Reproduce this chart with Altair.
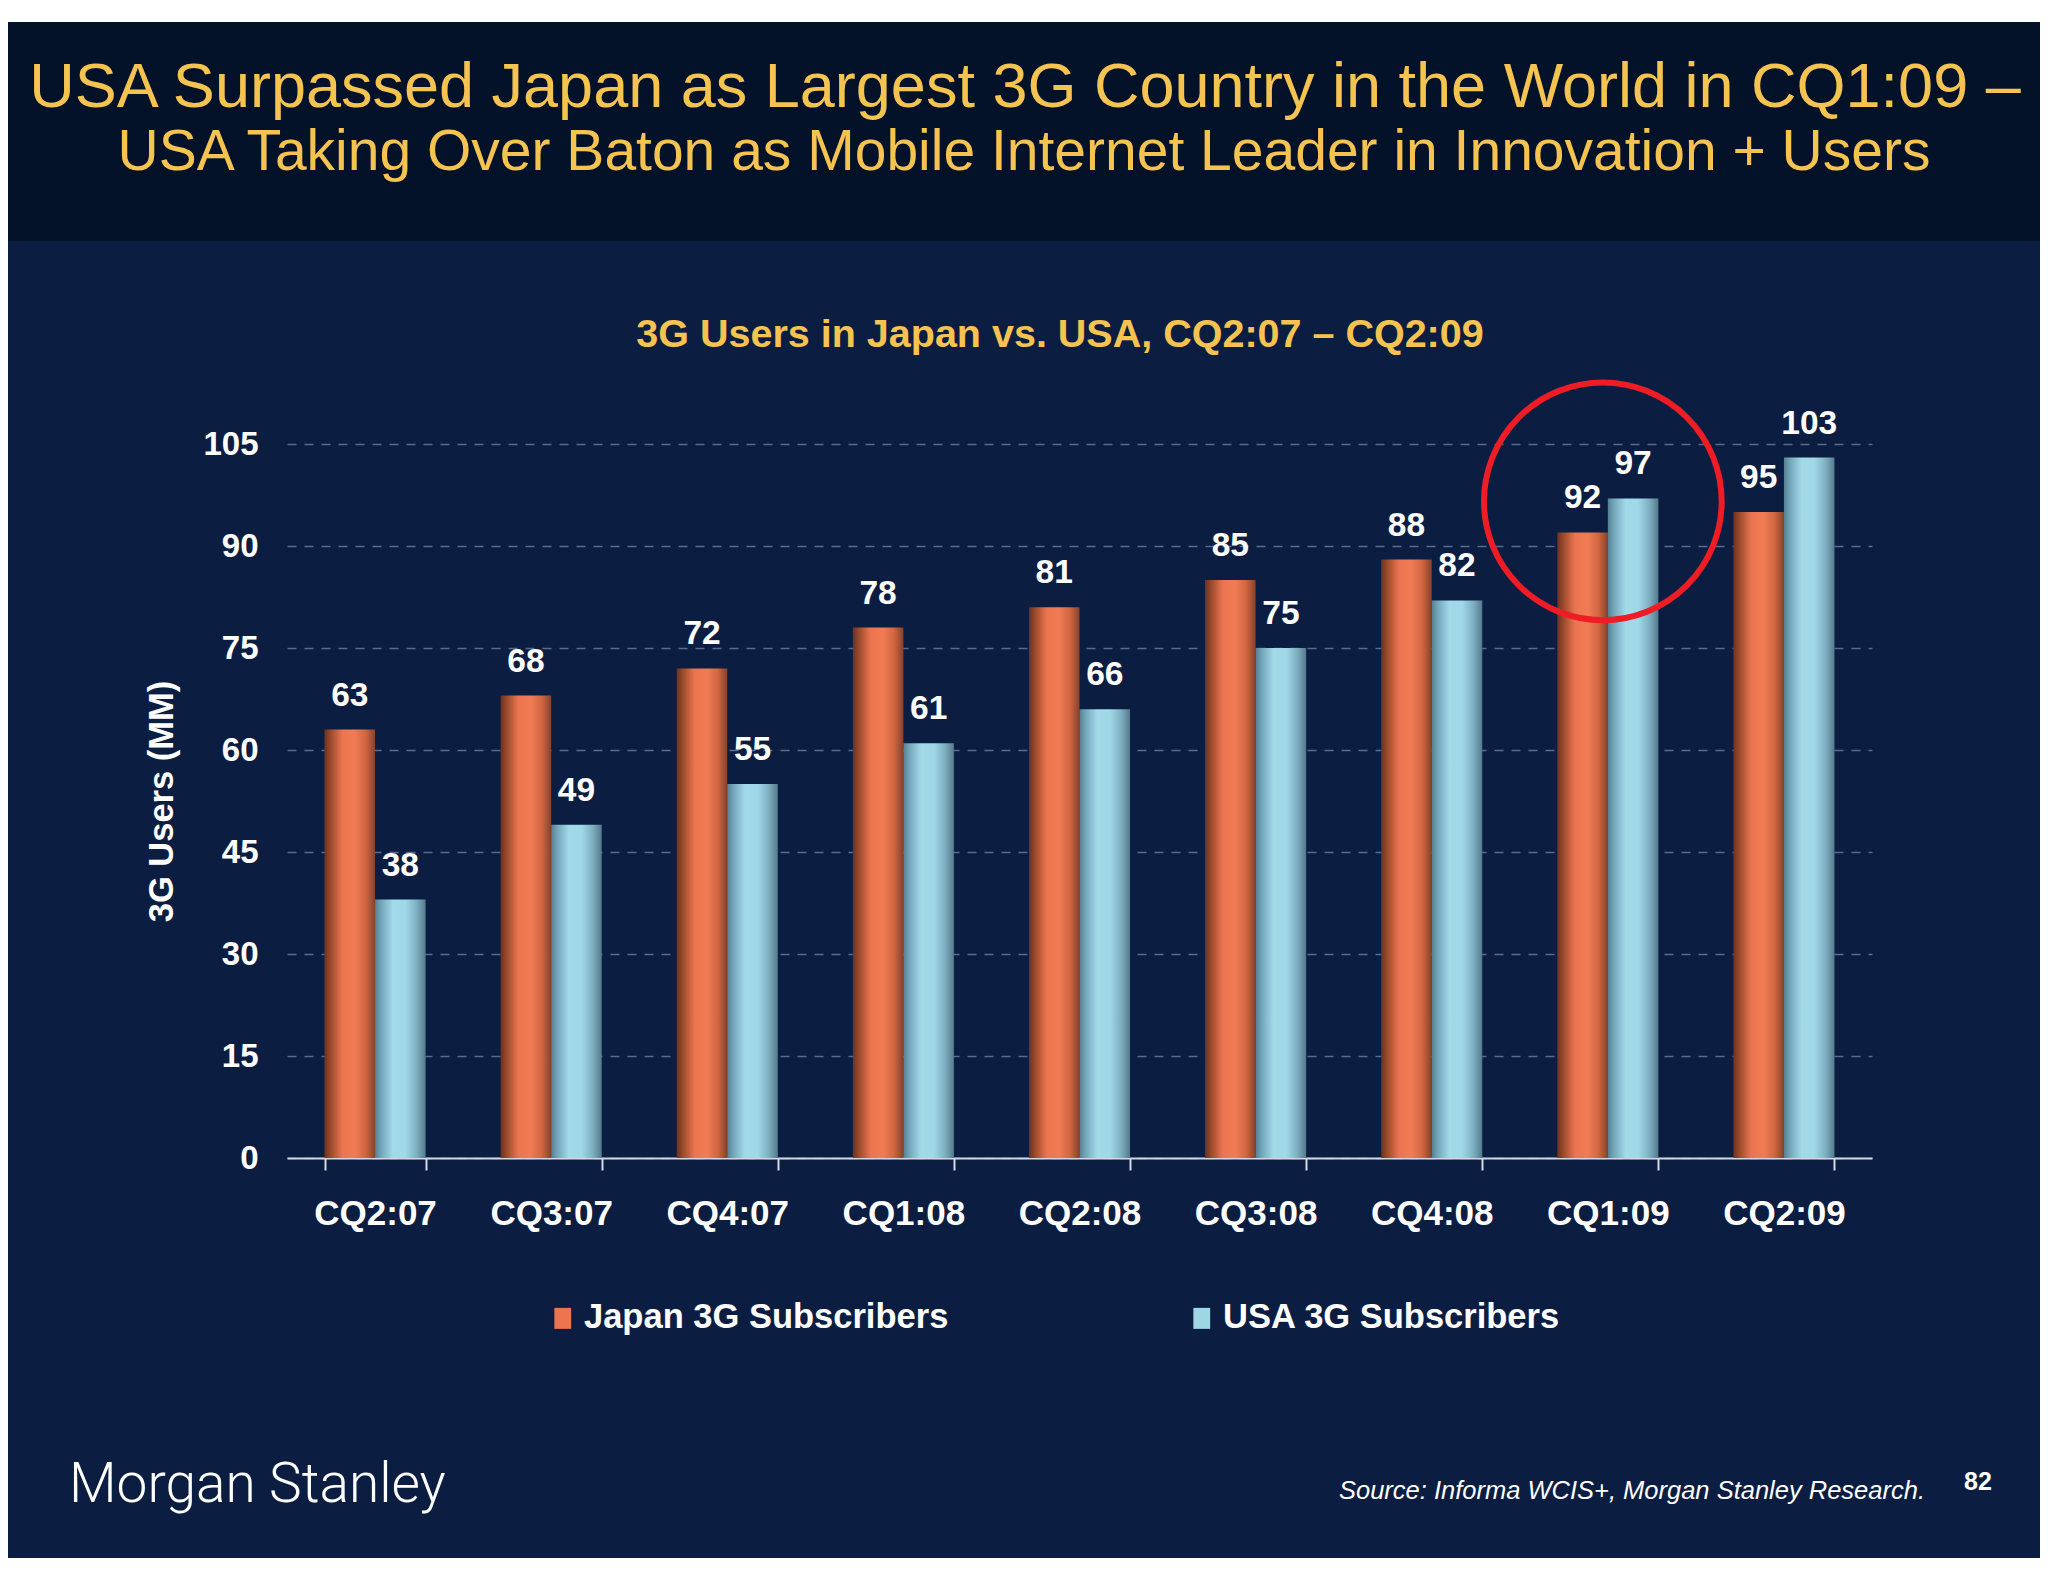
import altair as alt
import pandas as pd

# ---------------- data ----------------
quarters = ["CQ2:07", "CQ3:07", "CQ4:07", "CQ1:08", "CQ2:08",
            "CQ3:08", "CQ4:08", "CQ1:09", "CQ2:09"]
japan_3g = [63, 68, 72, 78, 81, 85, 88, 92, 95]
usa_3g = [38, 49, 55, 61, 66, 75, 82, 97, 103]
series_names = ["Japan 3G Subscribers", "USA 3G Subscribers"]
y_ticks = [0, 15, 30, 45, 60, 75, 90, 105]
highlight_quarter = "CQ1:09"

header_1 = "USA Surpassed Japan as Largest 3G Country in the World in CQ1:09 \u2013"
header_2 = "USA Taking Over Baton as Mobile Internet Leader in Innovation + Users"
chart_title = "3G Users in Japan vs. USA, CQ2:07 \u2013 CQ2:09"
y_title = "3G Users (MM)"
source_text = "Source: Informa WCIS+, Morgan Stanley Research."
logo_text = "Morgan Stanley"
page_no = "82"

df = pd.DataFrame({
    "quarter": quarters * 2,
    "series": [series_names[0]] * len(quarters) + [series_names[1]] * len(quarters),
    "users": japan_3g + usa_3g,
})
hl_df = pd.DataFrame({
    "quarter": [highlight_quarter],
    "users": [usa_3g[quarters.index(highlight_quarter)]],
})

# ---------------- styling ----------------
FONT = "Liberation Sans"
GOLD = "#f5c350"
NAVY = "#0b1e42"
HEADER = "#041229"
W, H = 1585, 714
PAD = {"left": 279, "top": 436, "right": 168, "bottom": 400}

GRAD_JAPAN = {
    "gradient": "linear", "x1": 0, "y1": 0, "x2": 1, "y2": 0,
    "stops": [
        {"offset": 0.0, "color": "#6a3222"},
        {"offset": 0.12, "color": "#9a4a2c"},
        {"offset": 0.35, "color": "#ea7550"},
        {"offset": 0.6, "color": "#f27c54"},
        {"offset": 0.82, "color": "#cf6540"},
        {"offset": 1.0, "color": "#86412b"},
    ],
}
GRAD_USA = {
    "gradient": "linear", "x1": 0, "y1": 0, "x2": 1, "y2": 0,
    "stops": [
        {"offset": 0.0, "color": "#557f93"},
        {"offset": 0.12, "color": "#74a6b9"},
        {"offset": 0.35, "color": "#a3d9e9"},
        {"offset": 0.6, "color": "#a0d8e8"},
        {"offset": 0.82, "color": "#7fb0c2"},
        {"offset": 1.0, "color": "#547a8c"},
    ],
}

x_enc = alt.X(
    "quarter:N", sort=quarters,
    scale=alt.Scale(paddingInner=0.426, paddingOuter=0.213),
    axis=alt.Axis(
        title=None, labelAngle=0, labelFont=FONT, labelFontSize=35,
        labelFontWeight="bold", labelColor="white", labelPadding=26,
        tickBand="extent", tickSize=12, tickColor="#d4d8e0", tickWidth=2,
        domainColor="#d4d8e0", domainWidth=2, grid=False,
    ),
)
y_enc = alt.Y(
    "users:Q",
    scale=alt.Scale(domain=[0, 105], nice=False),
    axis=alt.Axis(
        values=y_ticks, title=y_title, titleFont=FONT, titleFontSize=34.5,
        titleFontWeight="bold", titleColor="white", titlePadding=23,
        labelFont=FONT, labelFontSize=33, labelFontWeight="bold",
        labelColor="white", labelPadding=29, domain=False, ticks=False,
        grid=True, gridDash=[9, 8], gridColor="#5a6b8c", gridWidth=1.5,
    ),
)
xoff = alt.XOffset("series:N", scale=alt.Scale(domain=series_names,
                                                paddingInner=0, paddingOuter=0))

one = pd.DataFrame({"a": [0]})

top_strip = alt.Chart(one).mark_rect(color="white").encode(
    x=alt.value(-PAD["left"]), x2=alt.value(W + PAD["right"]),
    y=alt.value(-PAD["top"]), y2=alt.value(-PAD["top"] + 14))
header_band = alt.Chart(one).mark_rect(color=HEADER).encode(
    x=alt.value(-PAD["left"]), x2=alt.value(W + PAD["right"]),
    y=alt.value(-PAD["top"] + 14), y2=alt.value(-203))

bars_japan = alt.Chart(df).transform_filter(
    alt.datum.series == series_names[0]
).mark_bar(color=GRAD_JAPAN).encode(x=x_enc, y=y_enc, xOffset=xoff)

bars_usa = alt.Chart(df).transform_filter(
    alt.datum.series == series_names[1]
).mark_bar(color=GRAD_USA).encode(x=x_enc, y=y_enc, xOffset=xoff)

value_labels = alt.Chart(df).mark_text(
    baseline="alphabetic", dy=-24, font=FONT, fontSize=33.5,
    fontWeight="bold", color="white",
).encode(x=x_enc, y=y_enc, xOffset=xoff, text="users:Q")

circle = alt.Chart(hl_df).mark_point(
    shape="circle", filled=False, size=56500, color="#ee1c24",
    strokeWidth=6, opacity=1, xOffset=-5, yOffset=3,
).encode(x=x_enc, y=y_enc)

legend_layer = alt.Chart(pd.DataFrame({"series": series_names})).mark_point(
    shape="square", filled=True, size=0,
).encode(
    color=alt.Color(
        "series:N",
        scale=alt.Scale(domain=series_names, range=["#ec7550", "#9fd6e6"]),
        legend=alt.Legend(
            title=None, orient="none", legendX=258.5, legendY=857,
            direction="horizontal", columns=2, columnPadding=236,
            symbolType="M-0.8,-1H0.8V1H-0.8Z", symbolSize=441,
            symbolStrokeWidth=0, symbolOpacity=1,
            labelFont=FONT, labelFontSize=34.5, labelFontWeight="bold",
            labelColor="white", labelOffset=4, labelLimit=1000, padding=0,
        ),
    )
)


def text_layer(text, x, y, size, weight="normal", style="normal",
               align="center", font=FONT, color="white"):
    return alt.Chart(pd.DataFrame({"t": [text]})).mark_text(
        align=align, baseline="alphabetic", font=font, fontSize=size,
        fontWeight=weight, fontStyle=style, color=color,
    ).encode(x=alt.value(x), y=alt.value(y), text="t:N")


texts = [
    text_layer(header_1, 738, -337, 63, color=GOLD),
    text_layer(header_2, 737, -274, 57, color=GOLD),
    text_layer(chart_title, 773, -97, 39.5, weight="bold", color=GOLD),
    text_layer(logo_text, -218, 1058, 55, weight=300, align="left", font="Roboto"),
    text_layer(source_text, 1638, 1055, 25.5, style="italic", align="right"),
    text_layer(page_no, 1677, 1046, 25, weight="bold", align="left"),
]

chart = alt.layer(
    top_strip, header_band, bars_japan, bars_usa, value_labels, circle,
    legend_layer, *texts,
).properties(
    width=W, height=H,
    autosize=alt.AutoSizeParams(type="none"),
    padding=PAD,
    background=NAVY,
).configure_view(stroke=None)

chart.save("out.html", embed_options={"renderer": "svg", "actions": False})
